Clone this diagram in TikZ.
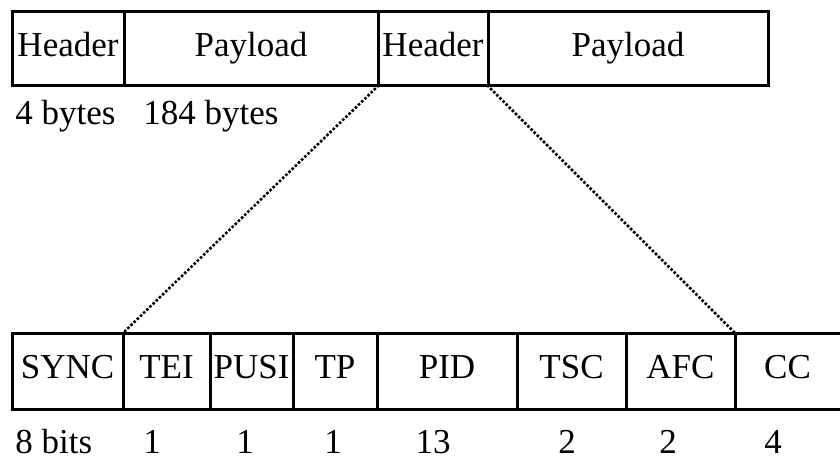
\documentclass[tikz,border=0pt]{standalone}
\usepackage{fontspec}
\setmainfont{Liberation Serif}
\usetikzlibrary{positioning}
\tikzset{%
  % Specifications for style of the packet boxes:
       field/.style = {rectangle, draw=black, line width=1.5pt,
                       outer sep=0pt, inner sep=0pt, text centered,
                       text height=12.25pt, text depth=4.4pt,
                       font=\fontsize{17.5}{20}\selectfont},
    topfield/.style = {field, minimum height=37pt},
    bitfield/.style = {field, minimum height=38pt},
        size/.style = {inner sep=0pt, font=\fontsize{17.5}{20}\selectfont},
        dots/.style = {line width=1.8pt, line cap=round,
                       dash pattern=on 0pt off 2.2pt},
}

\begin{document}
\begin{tikzpicture}[x=0.5pt, y=-0.5pt]
  \useasboundingbox (0,0) rectangle (840,460);
  % Transport stream packets
  \node (hdrA) [topfield, minimum width=56pt, anchor=north west] at (12,12) {Header};
  \node (payA) [topfield, minimum width=127pt, right=0pt of hdrA] {Payload};
  \node (hdrB) [topfield, minimum width=55pt, right=0pt of payA] {Header};
  \node (payB) [topfield, minimum width=140pt, right=0pt of hdrB] {Payload};
  \node (lenHdr) [size, anchor=base west] at (15,125) {4 bytes};
  \node (lenPay) [size, anchor=base west] at (143,125) {184 bytes};
  % Header fields
  \node (sync) [bitfield, minimum width=55.5pt, anchor=north west] at (12,333) {SYNC};
  \node (tei) [bitfield, minimum width=43.5pt, right=0pt of sync] {TEI};
  \node (pusi) [bitfield, minimum width=41.5pt, right=0pt of tei] {PUSI};
  \node (tp) [bitfield, minimum width=42pt, right=0pt of pusi] {TP};
  \node (pid) [bitfield, minimum width=70pt, right=0pt of tp] {PID};
  \node (tsc) [bitfield, minimum width=54.5pt, right=0pt of pid] {TSC};
  \node (afc) [bitfield, minimum width=54.5pt, right=0pt of tsc] {AFC};
  \node (cc) [bitfield, draw=none, minimum width=52.5pt, right=0pt of afc] {CC};
  \draw[line width=1.5pt] (afc.north east) -- (cc.north east);
  \draw[line width=1.5pt] (afc.south east) -- (cc.south east);
  % Bit counts
  \node (bitSync) [size, anchor=base west] at (15,453) {8 bits};
  \node (bitTei) [size, anchor=base] at (152,453) {1};
  \node (bitPusi) [size, anchor=base] at (245,453) {1};
  \node (bitTp) [size, anchor=base] at (333,453) {1};
  \node (bitPid) [size, anchor=base] at (433,453) {13};
  \node (bitTsc) [size, anchor=base] at (567,453) {2};
  \node (bitAfc) [size, anchor=base] at (668,453) {2};
  \node (bitCc) [size, anchor=base] at (773,453) {4};
  % Zoom lines from the header to its fields
  \draw[dots] (hdrB.south west) -- (tei.north west);
  \draw[dots] (hdrB.south east) -- (afc.north east);
\end{tikzpicture}
\end{document}
